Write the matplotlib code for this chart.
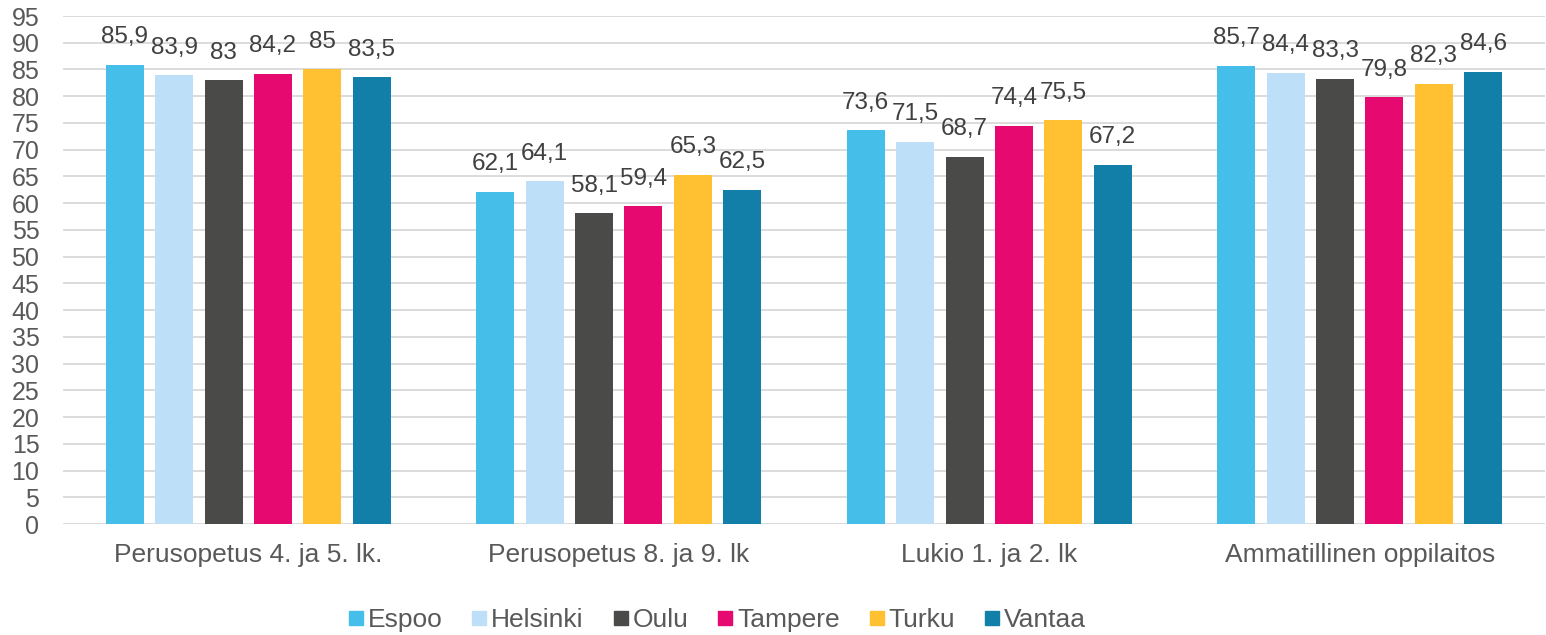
import matplotlib
matplotlib.use("Agg")
import matplotlib.pyplot as plt
from matplotlib.lines import Line2D
import numpy as np

categories = ["Perusopetus 4. ja 5. lk.", "Perusopetus 8. ja 9. lk", "Lukio 1. ja 2. lk", "Ammatillinen oppilaitos"]
series_names = ["Espoo", "Helsinki", "Oulu", "Tampere", "Turku", "Vantaa"]
espoo = [85.9, 62.1, 73.6, 85.7]
helsinki = [83.9, 64.1, 71.5, 84.4]
oulu = [83, 58.1, 68.7, 83.3]
tampere = [84.2, 59.4, 74.4, 79.8]
turku = [85, 65.3, 75.5, 82.3]
vantaa = [83.5, 62.5, 67.2, 84.6]
series_values = [espoo, helsinki, oulu, tampere, turku, vantaa]
colors = ["#45BFEA", "#BDDFF7", "#4A4A48", "#E6096F", "#FFC132", "#127FA8"]
yticks = list(range(0, 96, 5))

plt.rcParams['font.family'] = ['Liberation Sans', 'DejaVu Sans']

fig = plt.figure(figsize=(15.46, 6.35), dpi=100)
ax = fig.add_axes([63/1546, 1-524/635, (1545-63)/1546, (524-16)/635])

x = np.arange(len(categories))
step = 49.4/370.5
width = 38/370.5
for j, (name, vals, c) in enumerate(zip(series_names, series_values, colors)):
    pos = x + (j - 2.5) * step
    ax.bar(pos, vals, width=width, color=c, label=name, zorder=3)
    for p, v in zip(pos, vals):
        s = (f"{v:g}").replace('.', ',')
        ax.annotate(s, (p, v), xytext=(0, 12), textcoords='offset points',
                    ha='center', va='bottom', fontsize=17.5, color='#404040', zorder=4)

ax.set_xlim(-0.5, 3.5)
ax.set_ylim(0, 95)
ax.set_yticks(yticks)
ax.set_yticklabels([str(t) for t in yticks])
ax.set_xticks(x)
ax.set_xticklabels(categories, fontsize=19)
ax.grid(axis='y', color='#D9D9D9', linewidth=1.3, zorder=0)
for s in ax.spines.values():
    s.set_visible(False)
ax.tick_params(axis='both', length=0, colors='#595959')
ax.tick_params(axis='y', labelsize=18, pad=17)
ax.tick_params(axis='x', pad=14)

handles = [Line2D([], [], marker='s', linestyle='None', markersize=10,
                  markerfacecolor=c, markeredgecolor=c) for c in colors]
fig.legend(handles, series_names, loc='center', bbox_to_anchor=(717/1546, 1-620/635),
           ncol=6, frameon=False, fontsize=19, labelcolor='#595959',
           handlelength=0.6, handletextpad=0.15, columnspacing=1.1)

fig.savefig("out.png", dpi=100)
